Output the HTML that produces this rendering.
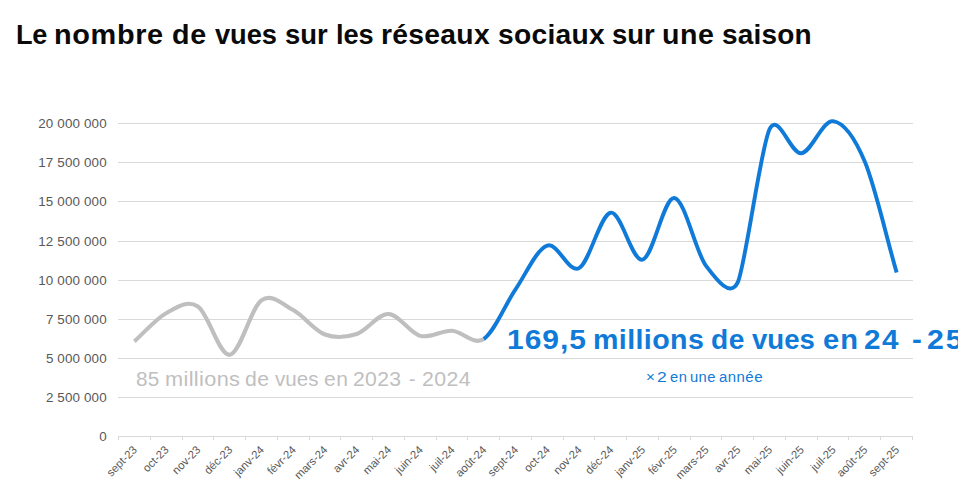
<!DOCTYPE html>
<html><head><meta charset="utf-8">
<style>
html,body{margin:0;padding:0;background:#fff;}
body{width:958px;height:504px;overflow:hidden;position:relative;font-family:"Liberation Sans",sans-serif;}
svg{position:absolute;left:0;top:0;}
.yl{font-family:"Liberation Sans",sans-serif;font-size:13.4px;fill:#595959;letter-spacing:0.15px;}
.xl{font-family:"Liberation Sans",sans-serif;font-size:11.3px;fill:#595959;}
.w{position:absolute;white-space:nowrap;line-height:1;transform-origin:0 50%;font-family:"Liberation Sans",sans-serif;}
</style></head><body>
<svg width="958" height="504" viewBox="0 0 958 504">
<line x1="118.0" y1="436.5" x2="913.0" y2="436.5" stroke="#d9d9d9" stroke-width="1"/>
<line x1="118.0" y1="397.5" x2="913.0" y2="397.5" stroke="#d9d9d9" stroke-width="1"/>
<line x1="118.0" y1="358.5" x2="913.0" y2="358.5" stroke="#d9d9d9" stroke-width="1"/>
<line x1="118.0" y1="319.5" x2="913.0" y2="319.5" stroke="#d9d9d9" stroke-width="1"/>
<line x1="118.0" y1="280.5" x2="913.0" y2="280.5" stroke="#d9d9d9" stroke-width="1"/>
<line x1="118.0" y1="241.5" x2="913.0" y2="241.5" stroke="#d9d9d9" stroke-width="1"/>
<line x1="118.0" y1="201.5" x2="913.0" y2="201.5" stroke="#d9d9d9" stroke-width="1"/>
<line x1="118.0" y1="162.5" x2="913.0" y2="162.5" stroke="#d9d9d9" stroke-width="1"/>
<line x1="118.0" y1="123.5" x2="913.0" y2="123.5" stroke="#d9d9d9" stroke-width="1"/>
<line x1="118.5" y1="436.0" x2="118.5" y2="440.0" stroke="#d9d9d9" stroke-width="1"/>
<line x1="150.5" y1="436.0" x2="150.5" y2="440.0" stroke="#d9d9d9" stroke-width="1"/>
<line x1="182.5" y1="436.0" x2="182.5" y2="440.0" stroke="#d9d9d9" stroke-width="1"/>
<line x1="213.5" y1="436.0" x2="213.5" y2="440.0" stroke="#d9d9d9" stroke-width="1"/>
<line x1="245.5" y1="436.0" x2="245.5" y2="440.0" stroke="#d9d9d9" stroke-width="1"/>
<line x1="277.5" y1="436.0" x2="277.5" y2="440.0" stroke="#d9d9d9" stroke-width="1"/>
<line x1="309.5" y1="436.0" x2="309.5" y2="440.0" stroke="#d9d9d9" stroke-width="1"/>
<line x1="340.5" y1="436.0" x2="340.5" y2="440.0" stroke="#d9d9d9" stroke-width="1"/>
<line x1="372.5" y1="436.0" x2="372.5" y2="440.0" stroke="#d9d9d9" stroke-width="1"/>
<line x1="404.5" y1="436.0" x2="404.5" y2="440.0" stroke="#d9d9d9" stroke-width="1"/>
<line x1="436.5" y1="436.0" x2="436.5" y2="440.0" stroke="#d9d9d9" stroke-width="1"/>
<line x1="467.5" y1="436.0" x2="467.5" y2="440.0" stroke="#d9d9d9" stroke-width="1"/>
<line x1="499.5" y1="436.0" x2="499.5" y2="440.0" stroke="#d9d9d9" stroke-width="1"/>
<line x1="531.5" y1="436.0" x2="531.5" y2="440.0" stroke="#d9d9d9" stroke-width="1"/>
<line x1="563.5" y1="436.0" x2="563.5" y2="440.0" stroke="#d9d9d9" stroke-width="1"/>
<line x1="594.5" y1="436.0" x2="594.5" y2="440.0" stroke="#d9d9d9" stroke-width="1"/>
<line x1="626.5" y1="436.0" x2="626.5" y2="440.0" stroke="#d9d9d9" stroke-width="1"/>
<line x1="658.5" y1="436.0" x2="658.5" y2="440.0" stroke="#d9d9d9" stroke-width="1"/>
<line x1="690.5" y1="436.0" x2="690.5" y2="440.0" stroke="#d9d9d9" stroke-width="1"/>
<line x1="721.5" y1="436.0" x2="721.5" y2="440.0" stroke="#d9d9d9" stroke-width="1"/>
<line x1="753.5" y1="436.0" x2="753.5" y2="440.0" stroke="#d9d9d9" stroke-width="1"/>
<line x1="785.5" y1="436.0" x2="785.5" y2="440.0" stroke="#d9d9d9" stroke-width="1"/>
<line x1="817.5" y1="436.0" x2="817.5" y2="440.0" stroke="#d9d9d9" stroke-width="1"/>
<line x1="848.5" y1="436.0" x2="848.5" y2="440.0" stroke="#d9d9d9" stroke-width="1"/>
<line x1="880.5" y1="436.0" x2="880.5" y2="440.0" stroke="#d9d9d9" stroke-width="1"/>
<line x1="912.5" y1="436.0" x2="912.5" y2="440.0" stroke="#d9d9d9" stroke-width="1"/>
<text x="106.8" y="440.9" text-anchor="end" class="yl">0</text>
<text x="106.8" y="401.9" text-anchor="end" class="yl">2 500 000</text>
<text x="106.8" y="362.9" text-anchor="end" class="yl">5 000 000</text>
<text x="106.8" y="323.9" text-anchor="end" class="yl">7 500 000</text>
<text x="106.8" y="284.9" text-anchor="end" class="yl">10 000 000</text>
<text x="106.8" y="245.9" text-anchor="end" class="yl">12 500 000</text>
<text x="106.8" y="205.9" text-anchor="end" class="yl">15 000 000</text>
<text x="106.8" y="166.9" text-anchor="end" class="yl">17 500 000</text>
<text x="106.8" y="127.9" text-anchor="end" class="yl">20 000 000</text>
<text transform="translate(137.8,450.5) rotate(-45)" text-anchor="end" class="xl">sept-23</text>
<text transform="translate(169.5,450.5) rotate(-45)" text-anchor="end" class="xl">oct-23</text>
<text transform="translate(201.3,450.5) rotate(-45)" text-anchor="end" class="xl">nov-23</text>
<text transform="translate(233.1,450.5) rotate(-45)" text-anchor="end" class="xl">déc-23</text>
<text transform="translate(264.8,450.5) rotate(-45)" text-anchor="end" class="xl">janv-24</text>
<text transform="translate(296.6,450.5) rotate(-45)" text-anchor="end" class="xl">févr-24</text>
<text transform="translate(328.3,450.5) rotate(-45)" text-anchor="end" class="xl">mars-24</text>
<text transform="translate(360.1,450.5) rotate(-45)" text-anchor="end" class="xl">avr-24</text>
<text transform="translate(391.9,450.5) rotate(-45)" text-anchor="end" class="xl">mai-24</text>
<text transform="translate(423.6,450.5) rotate(-45)" text-anchor="end" class="xl">juin-24</text>
<text transform="translate(455.4,450.5) rotate(-45)" text-anchor="end" class="xl">juil-24</text>
<text transform="translate(487.1,450.5) rotate(-45)" text-anchor="end" class="xl">août-24</text>
<text transform="translate(518.9,450.5) rotate(-45)" text-anchor="end" class="xl">sept-24</text>
<text transform="translate(550.7,450.5) rotate(-45)" text-anchor="end" class="xl">oct-24</text>
<text transform="translate(582.4,450.5) rotate(-45)" text-anchor="end" class="xl">nov-24</text>
<text transform="translate(614.2,450.5) rotate(-45)" text-anchor="end" class="xl">déc-24</text>
<text transform="translate(645.9,450.5) rotate(-45)" text-anchor="end" class="xl">janv-25</text>
<text transform="translate(677.7,450.5) rotate(-45)" text-anchor="end" class="xl">févr-25</text>
<text transform="translate(709.5,450.5) rotate(-45)" text-anchor="end" class="xl">mars-25</text>
<text transform="translate(741.2,450.5) rotate(-45)" text-anchor="end" class="xl">avr-25</text>
<text transform="translate(773.0,450.5) rotate(-45)" text-anchor="end" class="xl">mai-25</text>
<text transform="translate(804.7,450.5) rotate(-45)" text-anchor="end" class="xl">juin-25</text>
<text transform="translate(836.5,450.5) rotate(-45)" text-anchor="end" class="xl">juil-25</text>
<text transform="translate(868.3,450.5) rotate(-45)" text-anchor="end" class="xl">août-25</text>
<text transform="translate(900.0,450.5) rotate(-45)" text-anchor="end" class="xl">sept-25</text>
<path d="M134.38,341.35 C144.97,331.96 155.55,318.99 166.14,313.18 C176.73,307.36 187.31,299.51 197.90,306.45 C208.49,313.39 219.07,355.82 229.66,354.81 C240.25,353.79 250.83,307.80 261.42,300.35 C272.01,292.89 282.59,304.36 293.18,310.05 C303.77,315.73 314.35,330.47 324.94,334.46 C335.53,338.45 346.11,337.41 356.70,333.99 C367.29,330.58 377.87,313.65 388.46,313.96 C399.05,314.27 409.63,333.08 420.22,335.87 C430.81,338.66 441.39,330.18 451.98,330.71 C462.57,331.23 473.15,345.89 483.74,339.00" fill="none" stroke="#bfbfbf" stroke-width="4.1" stroke-linecap="butt" stroke-linejoin="round"/>
<path d="M483.74,339.00 C494.33,332.11 504.91,304.96 515.50,289.39 C526.09,273.82 536.67,249.12 547.26,245.57 C557.85,242.02 568.43,273.58 579.02,268.11 C589.61,262.63 600.19,214.11 610.78,212.70 C621.37,211.30 631.95,262.11 642.54,259.65 C653.13,257.20 663.71,196.95 674.30,197.99 C684.89,199.04 695.47,251.88 706.06,265.91 C716.65,279.95 730.30,298.37 737.82,282.19 C745.34,266.01 760.77,147.02 769.58,129.13 C778.39,111.25 790.75,154.57 801.34,153.24 C811.93,151.90 822.51,119.72 833.10,121.15 C843.69,122.59 854.87,138.04 864.86,161.84 C874.85,185.64 886.03,235.61 896.62,272.49" fill="none" stroke="#0f7ad8" stroke-width="3.9" stroke-linecap="butt" stroke-linejoin="round"/>
</svg>
<span class="w" style="left:16.03px;top:20.72px;font-size:27.5px;font-weight:bold;color:#0a0a0a;letter-spacing:-0.284px;transform:scaleX(0.9855);">Le</span>
<span class="w" style="left:54.30px;top:20.72px;font-size:27.5px;font-weight:bold;color:#0a0a0a;letter-spacing:0.625px;transform:scaleX(1.0502);">nombre</span>
<span class="w" style="left:172.06px;top:20.72px;font-size:27.5px;font-weight:bold;color:#0a0a0a;letter-spacing:0.806px;transform:scaleX(1.0420);">de</span>
<span class="w" style="left:214.70px;top:20.72px;font-size:27.5px;font-weight:bold;color:#0a0a0a;letter-spacing:-0.107px;transform:scaleX(0.9923);">vues</span>
<span class="w" style="left:284.90px;top:20.72px;font-size:27.5px;font-weight:bold;color:#0a0a0a;letter-spacing:-0.040px;transform:scaleX(0.9971);">sur</span>
<span class="w" style="left:335.62px;top:20.72px;font-size:27.5px;font-weight:bold;color:#0a0a0a;letter-spacing:-0.121px;transform:scaleX(0.9897);">les</span>
<span class="w" style="left:380.85px;top:20.72px;font-size:27.5px;font-weight:bold;color:#0a0a0a;letter-spacing:0.299px;transform:scaleX(1.0271);">réseaux</span>
<span class="w" style="left:497.78px;top:20.72px;font-size:27.5px;font-weight:bold;color:#0a0a0a;letter-spacing:0.273px;transform:scaleX(1.0250);">sociaux</span>
<span class="w" style="left:612.40px;top:20.72px;font-size:27.5px;font-weight:bold;color:#0a0a0a;letter-spacing:-0.040px;transform:scaleX(0.9971);">sur</span>
<span class="w" style="left:662.22px;top:20.72px;font-size:27.5px;font-weight:bold;color:#0a0a0a;letter-spacing:0.559px;transform:scaleX(1.0378);">une</span>
<span class="w" style="left:722.18px;top:20.72px;font-size:27.5px;font-weight:bold;color:#0a0a0a;letter-spacing:0.189px;transform:scaleX(1.0171);">saison</span>
<span class="w" style="left:135.99px;top:368.65px;font-size:20.5px;font-weight:normal;color:#bfbfbf;letter-spacing:0.158px;transform:scaleX(1.0114);">85</span>
<span class="w" style="left:165.04px;top:368.65px;font-size:20.5px;font-weight:normal;color:#bfbfbf;letter-spacing:0.351px;transform:scaleX(1.0582);">millions</span>
<span class="w" style="left:245.47px;top:368.65px;font-size:20.5px;font-weight:normal;color:#bfbfbf;letter-spacing:0.464px;transform:scaleX(1.0343);">de</span>
<span class="w" style="left:274.70px;top:368.65px;font-size:20.5px;font-weight:normal;color:#bfbfbf;letter-spacing:0.027px;transform:scaleX(1.0028);">vues</span>
<span class="w" style="left:323.97px;top:368.65px;font-size:20.5px;font-weight:normal;color:#bfbfbf;letter-spacing:0.389px;transform:scaleX(1.0286);">en</span>
<span class="w" style="left:353.47px;top:368.65px;font-size:20.5px;font-weight:normal;color:#bfbfbf;letter-spacing:0.310px;transform:scaleX(1.0327);">2023</span>
<span class="w" style="left:409.06px;top:368.65px;font-size:20.5px;font-weight:normal;color:#bfbfbf;letter-spacing:0.000px;transform:scaleX(0.9400);">-</span>
<span class="w" style="left:422.06px;top:368.65px;font-size:20.5px;font-weight:normal;color:#bfbfbf;letter-spacing:0.384px;transform:scaleX(1.0409);">2024</span>
<span class="w" style="left:507.12px;top:325.72px;font-size:27.5px;font-weight:bold;color:#0f7ad8;letter-spacing:0.908px;transform:scaleX(1.0900);">169,5</span>
<span class="w" style="left:592.62px;top:325.72px;font-size:27.5px;font-weight:bold;color:#0f7ad8;letter-spacing:0.373px;transform:scaleX(1.0404);">millions</span>
<span class="w" style="left:710.78px;top:325.72px;font-size:27.5px;font-weight:bold;color:#0f7ad8;letter-spacing:0.469px;transform:scaleX(1.0240);">de</span>
<span class="w" style="left:752.30px;top:325.72px;font-size:27.5px;font-weight:bold;color:#0f7ad8;letter-spacing:0.027px;transform:scaleX(1.0019);">vues</span>
<span class="w" style="left:822.94px;top:325.72px;font-size:27.5px;font-weight:bold;color:#0f7ad8;letter-spacing:1.059px;transform:scaleX(1.0579);">en</span>
<span class="w" style="left:863.92px;top:325.72px;font-size:27.5px;font-weight:bold;color:#0f7ad8;letter-spacing:1.481px;transform:scaleX(1.0800);">24</span>
<span class="w" style="left:911.93px;top:325.72px;font-size:27.5px;font-weight:bold;color:#0f7ad8;letter-spacing:0.000px;transform:scaleX(1.0714);">-</span>
<span class="w" style="left:927.40px;top:325.72px;font-size:27.5px;font-weight:bold;color:#0f7ad8;letter-spacing:1.812px;transform:scaleX(1.1034);">25</span>
<span class="w" style="left:646.02px;top:370.15px;font-size:14px;font-weight:normal;color:#0f7ad8;letter-spacing:0.000px;transform:scaleX(1.0833);">×</span>
<span class="w" style="left:657.05px;top:370.15px;font-size:14px;font-weight:normal;color:#0f7ad8;letter-spacing:0.000px;transform:scaleX(1.2500);">2</span>
<span class="w" style="left:669.85px;top:370.15px;font-size:14px;font-weight:normal;color:#0f7ad8;letter-spacing:0.457px;transform:scaleX(1.0514);">en</span>
<span class="w" style="left:690.25px;top:370.15px;font-size:14px;font-weight:normal;color:#0f7ad8;letter-spacing:0.379px;transform:scaleX(1.0545);">une</span>
<span class="w" style="left:718.93px;top:370.15px;font-size:14px;font-weight:normal;color:#0f7ad8;letter-spacing:0.420px;transform:scaleX(1.0711);">année</span>
</body></html>
